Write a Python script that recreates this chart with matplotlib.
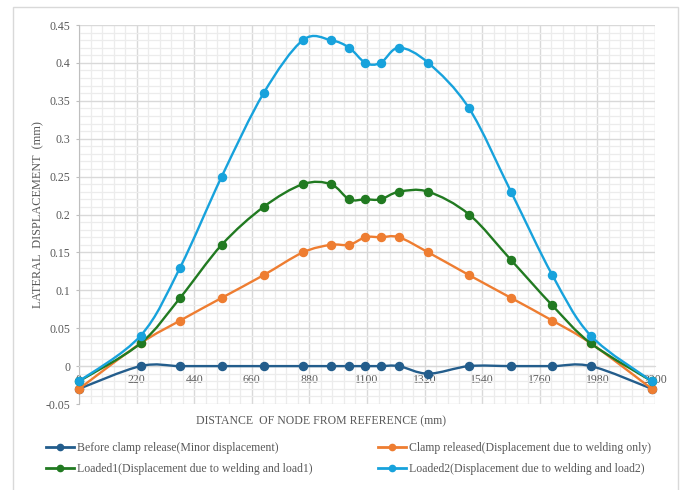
import numpy as np
import matplotlib
matplotlib.use('Agg')
import matplotlib.pyplot as plt
from matplotlib.path import Path
from matplotlib.patches import PathPatch, Rectangle
from matplotlib.lines import Line2D

plt.rcParams['font.family'] = ['Liberation Serif', 'DejaVu Serif']

# node positions along the plate (mm)
dist = [0, 235, 386, 545, 705, 855, 962, 1032, 1094, 1152, 1222, 1334, 1490, 1650, 1808, 1955, 2188]

# lateral displacement (mm) for each stage
before_clamp = [-0.03, 0, 0, 0, 0, 0, 0, 0, 0, 0, 0, -0.01, 0, 0, 0, 0, -0.03]
clamp_released = [-0.03, 0.03, 0.06, 0.09, 0.12, 0.15, 0.16, 0.16, 0.17, 0.17, 0.17, 0.15, 0.12, 0.09, 0.06, 0.03, -0.03]
loaded1 = [-0.02, 0.03, 0.09, 0.16, 0.21, 0.24, 0.24, 0.22, 0.22, 0.22, 0.23, 0.23, 0.20, 0.14, 0.08, 0.03, -0.02]
loaded2 = [-0.02, 0.04, 0.13, 0.25, 0.36, 0.43, 0.43, 0.42, 0.40, 0.40, 0.42, 0.40, 0.34, 0.23, 0.12, 0.04, -0.02]

labels = ['Before clamp release(Minor displacement)',
          'Clamp released(Displacement due to welding only)',
          'Loaded1(Displacement due to welding and load1)',
          'Loaded2(Displacement due to welding and load2)']
colors = ['#235d8c', '#ee7d31', '#217a21', '#17a2dc']

xticks = list(range(0, 2201, 220))
yticks = [-0.05, 0, 0.05, 0.1, 0.15, 0.2, 0.25, 0.3, 0.35, 0.4, 0.45]


def smooth_path(xs, ys):
    # excel style smoothed line: catmull-rom segments as cubic beziers
    pts = np.column_stack([xs, ys]).astype(float)
    n = len(pts)
    verts = [pts[0]]
    codes = [Path.MOVETO]
    for i in range(n - 1):
        p0 = pts[max(i - 1, 0)]
        p1 = pts[i]
        p2 = pts[i + 1]
        p3 = pts[min(i + 2, n - 1)]
        c1 = p1 + (p2 - p0) / 6.0
        c2 = p2 - (p3 - p1) / 6.0
        verts += [c1, c2, p2]
        codes += [Path.CURVE4] * 3
    return Path(verts, codes)


fig = plt.figure(figsize=(6.83, 4.90), dpi=100)
ax = fig.add_axes([79 / 683, 1 - 404 / 490, 576 / 683, 379 / 490])

# chart area border
fig.patches.append(Rectangle((12.7 / 683, -0.1), 665 / 683, 1.1 - 7.3 / 490,
                             transform=fig.transFigure, fill=False,
                             edgecolor='#d9d9d9', linewidth=1.0))

ax.set_xlim(0, 2200)
ax.set_ylim(-0.05, 0.45)
ax.set_xticks(xticks)
ax.set_xticklabels([str(v) for v in xticks])
ax.set_yticks(yticks)
ax.set_yticklabels(['%g' % round(v, 2) for v in yticks])
ax.set_xticks(np.arange(0, 2201, 44), minor=True)
ax.set_yticks(np.arange(-0.05, 0.4501, 0.01), minor=True)
ax.grid(which='major', color='#d9d9d9', linewidth=1.0)
ax.grid(which='minor', color='#ececec', linewidth=0.9)
ax.set_axisbelow(True)

for s in ['top', 'right']:
    ax.spines[s].set_visible(False)
ax.spines['bottom'].set_position(('data', 0))
ax.spines['bottom'].set_color('#d9d9d9')
ax.spines['left'].set_color('#bfbfbf')
ax.tick_params(axis='x', which='both', length=0, pad=5.5, labelsize=8.5, labelcolor='#595959')
ax.tick_params(axis='y', which='major', length=2, color='#bfbfbf', pad=4,
               labelsize=8.5, labelcolor='#595959')
ax.tick_params(axis='y', which='minor', length=0)

series = [before_clamp, clamp_released, loaded1, loaded2]
for vals, col in zip(series, colors):
    ax.add_patch(PathPatch(smooth_path(dist, vals), facecolor='none', edgecolor=col,
                           linewidth=1.7, zorder=3, clip_on=False))
    ax.plot(dist, vals, linestyle='none', marker='o', markersize=5.8, color=col,
            zorder=3, clip_on=False)

fig.text(38 / 683, 1 - 215 / 490, 'LATERAL  DISPLACEMENT  (mm)', rotation=90,
         ha='center', va='center', fontsize=8.8, color='#595959')
fig.text(321 / 683, 1 - 421 / 490, 'DISTANCE  OF NODE FROM REFERENCE (mm)',
         ha='center', va='center', fontsize=8.5, color='#595959')

handles = [Line2D([], [], color=c, linewidth=2, marker='o', markersize=4.5) for c in colors]
leg_kw = dict(frameon=False, fontsize=8.5, handlelength=2.4, handletextpad=0.2,
              labelspacing=0.75, borderaxespad=0, borderpad=0, loc='upper left',
              labelcolor='#595959')
fig.legend([handles[0], handles[2]], [labels[0], labels[2]],
           bbox_to_anchor=(46 / 683, 1 - 442 / 490), **leg_kw)
fig.legend([handles[1], handles[3]], [labels[1], labels[3]],
           bbox_to_anchor=(378 / 683, 1 - 442 / 490), **leg_kw)

fig.savefig('out.png', dpi=100)
